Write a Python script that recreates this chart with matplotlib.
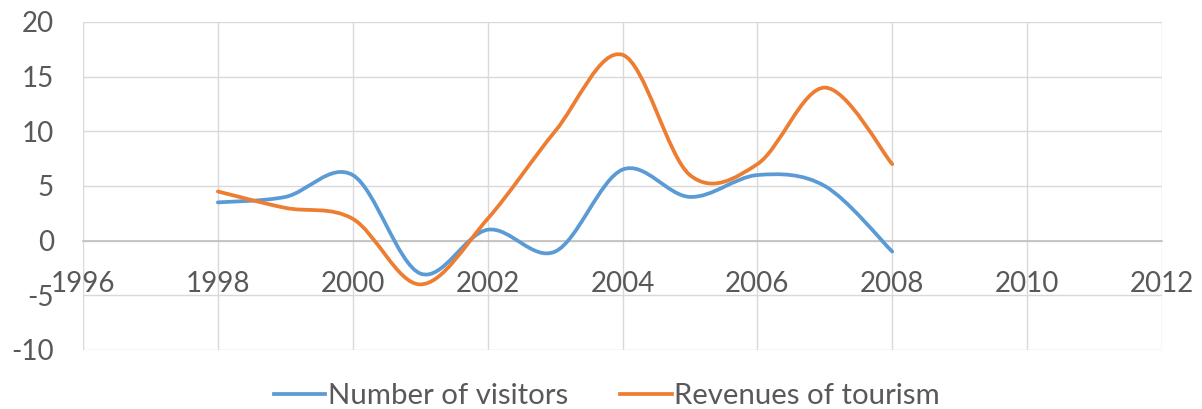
import matplotlib
matplotlib.use("Agg")
import matplotlib.pyplot as plt
from matplotlib.path import Path
from matplotlib.patches import PathPatch
from matplotlib.lines import Line2D

years = [1998, 1999, 2000, 2001, 2002, 2003, 2004, 2005, 2006, 2007, 2008]
visitors = [3.5, 4, 6, -3, 1, -1, 6.5, 4, 6, 5, -1]
revenues = [4.5, 3, 2, -4, 2, 10, 17, 6, 7, 14, 7]
series_names = ["Number of visitors", "Revenues of tourism"]
colors = ["#5B9BD5", "#ED7D31"]
x_ticks = [1996, 1998, 2000, 2002, 2004, 2006, 2008, 2010, 2012]
y_ticks = [-10, -5, 0, 5, 10, 15, 20]

TEXT = "#595959"
plt.rcParams['font.family'] = ['Lato', 'DejaVu Sans']

fig = plt.figure(figsize=(12.02, 4.09), dpi=100)
ax = fig.add_axes([83/1202, 1-350/409, (1162-83)/1202, (350-22)/409])


def smooth_path(xs, ys):
    """Excel-like smoothed line: cubic Bezier (Catmull-Rom control points)."""
    n = len(xs)
    verts = [(xs[0], ys[0])]
    codes = [Path.MOVETO]
    for i in range(n - 1):
        i0 = max(i - 1, 0)
        i3 = min(i + 2, n - 1)
        c1 = (xs[i] + (xs[i + 1] - xs[i0]) / 6, ys[i] + (ys[i + 1] - ys[i0]) / 6)
        c2 = (xs[i + 1] - (xs[i3] - xs[i]) / 6, ys[i + 1] - (ys[i3] - ys[i]) / 6)
        verts += [c1, c2, (xs[i + 1], ys[i + 1])]
        codes += [Path.CURVE4] * 3
    return Path(verts, codes)


handles = []
for vals, name, c in zip([visitors, revenues], series_names, colors):
    patch = PathPatch(smooth_path(years, vals), facecolor='none', edgecolor=c,
                      lw=2.7, capstyle='round', joinstyle='round', zorder=3)
    ax.add_patch(patch)
    handles.append(Line2D([], [], color=c, lw=2.7, label=name))

ax.set_xlim(1996, 2012)
ax.set_ylim(-10, 20)
ax.set_xticks(x_ticks)
ax.set_yticks(y_ticks)
ax.set_xticklabels([str(t) for t in x_ticks])
ax.set_yticklabels([str(t) for t in y_ticks])
ax.grid(True, color="#D9D9D9", lw=1.0, zorder=0)
ax.set_axisbelow(True)
for s in ['top', 'right', 'left']:
    ax.spines[s].set_visible(False)
ax.spines['bottom'].set_position(('data', 0))
ax.spines['bottom'].set_color("#BFBFBF")
ax.spines['bottom'].set_linewidth(1.2)
ax.tick_params(axis='both', length=0, labelsize=20, labelcolor=TEXT)
ax.tick_params(axis='y', pad=21)
ax.tick_params(axis='x', pad=22)

fig.legend(handles=handles, loc='center', bbox_to_anchor=(0.505, 1-396/409),
           ncol=2, frameon=False, fontsize=21.2, labelcolor=TEXT,
           handlelength=1.75, handletextpad=0.1, columnspacing=1.75)

fig.savefig("out.png", dpi=100)
